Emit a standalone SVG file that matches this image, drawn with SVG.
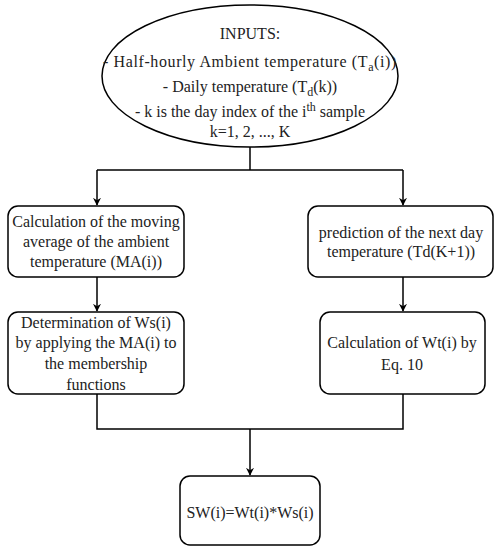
<svg xmlns="http://www.w3.org/2000/svg" width="494" height="546" viewBox="0 0 494 546">
<style>
.s{fill:#fff;stroke:#000;stroke-width:1.5}
.t{font-family:"Liberation Serif","Times New Roman",serif;font-size:16px;fill:#222;text-anchor:middle}
.c{fill:none;stroke:#000;stroke-width:1.5}
</style>
<defs>
<marker id="a" viewBox="0 0 10 10" refX="9" refY="5" markerWidth="8" markerHeight="8" markerUnits="userSpaceOnUse" orient="auto">
<path d="M0,0 L10,5 L0,10 L3,5 z" fill="#000"/>
</marker>
</defs>
<rect width="494" height="546" fill="#fff"/>
<g id="connectors">
<path class="c" d="M250,147 V170"/>
<path class="c" d="M97,170 H403"/>
<path class="c" d="M97,170 V205" marker-end="url(#a)"/>
<path class="c" d="M403,170 V205" marker-end="url(#a)"/>
<path class="c" d="M97,277 V311" marker-end="url(#a)"/>
<path class="c" d="M403,277 V311" marker-end="url(#a)"/>
<path class="c" d="M97,394 V429 H403 V394"/>
<path class="c" d="M250,429 V475" marker-end="url(#a)"/>
</g>
<g id="inputs">
<ellipse class="s" cx="250" cy="76" rx="148" ry="71"/>
<text class="t" x="250" y="39">INPUTS:</text>
<text class="t" x="250" y="67" letter-spacing="0.6">- Half-hourly Ambient temperature (T<tspan font-size="12" dy="4">a</tspan><tspan dy="-4">(i))</tspan></text>
<text class="t" x="250" y="92">- Daily temperature (T<tspan font-size="12" dy="4">d</tspan><tspan dy="-4">(k))</tspan></text>
<text class="t" x="250" y="117">- k is the day index of the i<tspan font-size="12" dy="-6">th</tspan><tspan dy="6"> sample</tspan></text>
<text class="t" x="250" y="137">k=1, 2, ..., K</text>
</g>
<g id="moving-average">
<rect class="s" x="8" y="206" width="176" height="71" rx="10"/>
<text class="t" x="96" y="227">Calculation of the moving</text>
<text class="t" x="96" y="247">average of the ambient</text>
<text class="t" x="96" y="267">temperature (MA(i))</text>
</g>
<g id="prediction">
<rect class="s" x="308" y="206" width="185" height="71" rx="10"/>
<text class="t" x="401" y="238">prediction of the next day</text>
<text class="t" x="401" y="257">temperature (Td(K+1))</text>
</g>
<g id="ws">
<rect class="s" x="8" y="312" width="176" height="82" rx="10"/>
<text class="t" x="96" y="328">Determination of Ws(i)</text>
<text class="t" x="96" y="348">by applying the MA(i) to</text>
<text class="t" x="96" y="369">the membership</text>
<text class="t" x="96" y="390">functions</text>
</g>
<g id="wt">
<rect class="s" x="320" y="312" width="165" height="82" rx="10"/>
<text class="t" x="402" y="348">Calculation of Wt(i) by</text>
<text class="t" x="402" y="370">Eq. 10</text>
</g>
<g id="sw">
<rect class="s" x="180" y="476" width="140" height="69" rx="10"/>
<text class="t" x="250" y="518">SW(i)=Wt(i)*Ws(i)</text>
</g>
</svg>
